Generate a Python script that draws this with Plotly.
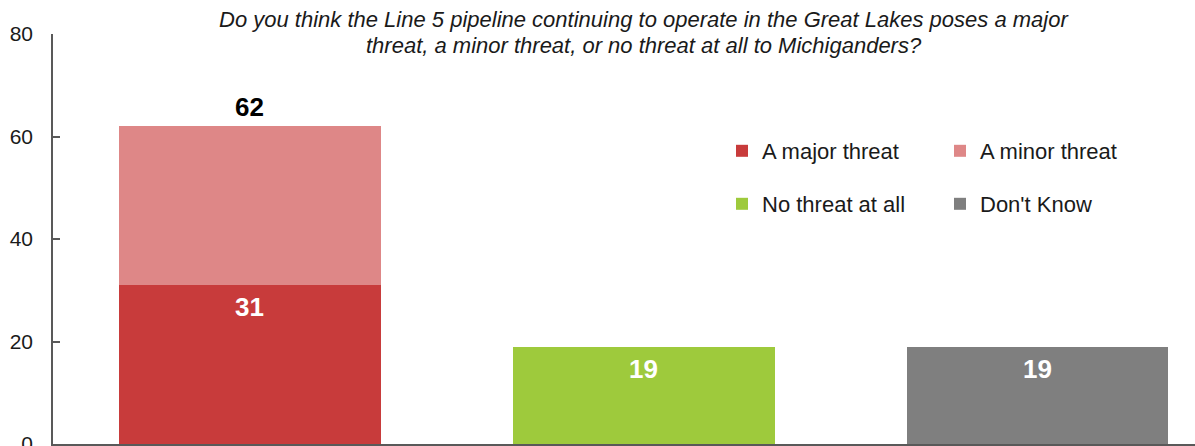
import plotly.graph_objects as go

categories = ["Threat", "No threat at all", "Don't Know"]
series_names = ["A major threat", "A minor threat", "No threat at all", "Don't Know"]
major = [31, None, None]
minor = [31, None, None]
no_threat = [None, 19, None]
dont_know = [None, None, 19]
colors = ["#C83B3B", "#DE8787", "#9ECA3C", "#7F7F7F"]
y_ticks = [0, 20, 40, 60, 80]
title_lines = [
    "Do you think the Line 5 pipeline continuing to operate in the Great Lakes poses a major",
    "threat, a minor threat, or no threat at all to Michiganders?",
]

FONT = "Liberation Sans, Arial, sans-serif"
W, H = 1195, 446
ML, MR, MT, MB = 53, 0, 34, 2
BW = 0.665

fig = go.Figure()
series = [major, minor, no_threat, dont_know]
legends = ["legend", "legend", "legend2", "legend2"]
for name, vals, col, lg in zip(series_names, series, colors, legends):
    fig.add_trace(go.Bar(
        x=categories, y=vals, name=name, marker=dict(color=col, line=dict(width=0)),
        width=BW, legend=lg, hoverinfo="skip",
    ))

annotations = []
# inside labels (white, near top of segment)
for vals in [major, no_threat, dont_know]:
    for c, v in zip(categories, vals):
        if v is None:
            continue
        annotations.append(dict(
            x=c, y=v, xref="x", yref="y", text=f"<b>{v}</b>", showarrow=False,
            yanchor="top", yshift=-5, font=dict(family=FONT, size=26, color="white"),
        ))
# total label above stacked bar
for i, c in enumerate(categories):
    if major[i] is not None and minor[i] is not None:
        tot = major[i] + minor[i]
        annotations.append(dict(
            x=c, y=tot, xref="x", yref="y", text=f"<b>{tot}</b>", showarrow=False,
            yanchor="bottom", yshift=2, font=dict(family=FONT, size=26, color="black"),
        ))

plot_w = W - ML - MR
plot_h = H - MT - MB
def px_x(p):
    return (p - ML) / plot_w
def px_y(p):
    return (H - MB - p) / plot_h

for line, yc in zip(title_lines, [20, 45]):
    annotations.append(dict(
        x=px_x(643.5), y=px_y(yc), xref="paper", yref="paper", text=f"<i>{line}</i>",
        showarrow=False, xanchor="center", yanchor="middle", align="center",
        font=dict(family=FONT, size=22, color="#1a1a1a"),
    ))

legend_common = dict(
    orientation="h", xanchor="left", yanchor="middle", bgcolor="rgba(0,0,0,0)",
    font=dict(family=FONT, size=22, color="#1a1a1a"), entrywidth=173,
    entrywidthmode="pixels", tracegroupgap=0, traceorder="normal",
    itemclick=False, itemdoubleclick=False,
)

fig.update_layout(
    width=W, height=H, margin=dict(l=ML, r=MR, t=MT, b=MB, pad=0, autoexpand=False),
    paper_bgcolor="white", plot_bgcolor="white", barmode="stack", bargap=0.335,
    showlegend=True,
    legend=dict(x=px_x(722), y=px_y(151), **legend_common),
    legend2=dict(x=px_x(722), y=px_y(204), **legend_common),
    annotations=annotations,
    xaxis=dict(range=[-0.5, 2.4], showticklabels=False, ticks="", showgrid=False,
               showline=True, linecolor="#595959", linewidth=1.5, zeroline=False,
               fixedrange=True, automargin=False),
    yaxis=dict(range=[0, 80], tickvals=y_ticks, showgrid=False,
               showline=True, linecolor="#595959", linewidth=1.5, ticks="inside",
               ticklen=7, tickcolor="#595959", tickwidth=1.5, zeroline=False,
               ticklabelstandoff=14, ticklabeloverflow="allow", automargin=False,
               tickfont=dict(family=FONT, size=21, color="#1a1a1a"), fixedrange=True),
)

fig.write_html("out.html", config={"displayModeBar": False},
               post_script="document.body.style.margin='0px';")
